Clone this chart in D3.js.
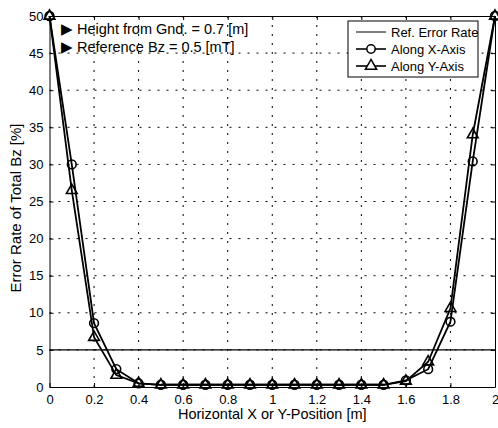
<!DOCTYPE html>
<html>
<head>
<meta charset="utf-8">
<script src="https://cdn.jsdelivr.net/npm/d3@7"></script>
<style>
  body { margin: 0; background: #fff; }
  text { font-family: 'Liberation Sans', Arial, sans-serif; fill: #000; }
</style>
</head>
<body>
<svg id="chart"></svg>
<script>
// positions along the axis [m]
let positions = [0, 0.1, 0.2, 0.3, 0.4, 0.5, 0.6, 0.7, 0.8, 0.9, 1.0, 1.1, 1.2, 1.3, 1.4, 1.5, 1.6, 1.7, 1.8, 1.9, 2.0]
// error rate [%] along X axis (circles)
let alongX = [50, 30, 8.6, 2.4, 0.5, 0.3, 0.3, 0.3, 0.3, 0.3, 0.3, 0.3, 0.3, 0.3, 0.3, 0.3, 0.9, 2.4, 8.8, 30.4, 50]
// error rate [%] along Y axis (triangles)
let alongY = [50, 26.5, 6.7, 1.6, 0.5, 0.3, 0.3, 0.3, 0.3, 0.3, 0.3, 0.3, 0.3, 0.3, 0.3, 0.3, 0.8, 3.4, 10.6, 34, 50]
let refRate = 5
let xTicks = [0, 0.2, 0.4, 0.6, 0.8, 1, 1.2, 1.4, 1.6, 1.8, 2]
let yTicks = [0, 5, 10, 15, 20, 25, 30, 35, 40, 45, 50]
let legendLabels = ['Ref. Error Rate', 'Along X-Axis', 'Along Y-Axis']
let notes = ['Height from Gnd. = 0.7 [m]', 'Reference Bz = 0.5 [mT]']

let width = 498
let height = 428
let margin = { left: 49.5, right: 3, top: 16, bottom: 41 }

let svg = d3.select('#chart').attr('width', width).attr('height', height)

let x = d3.scaleLinear().domain([0, 2]).range([margin.left, width - margin.right])
let y = d3.scaleLinear().domain([0, 50]).range([height - margin.bottom, margin.top])

// grid
let grid = svg.append('g')
  .attr('stroke', '#000')
  .attr('stroke-width', 1)
  .attr('stroke-dasharray', '2,7')
grid.selectAll('.vg').data(xTicks.slice(1, -1)).enter().append('line')
  .attr('x1', d => x(d)).attr('x2', d => x(d))
  .attr('y1', y(0)).attr('y2', y(50))
grid.selectAll('.hg').data(yTicks.slice(1, -1)).enter().append('line')
  .attr('x1', x(0)).attr('x2', x(2))
  .attr('y1', d => y(d)).attr('y2', d => y(d))

// axes with inward ticks
let fmtX = d => d === 0 || d === 1 || d === 2 ? String(d) : d3.format('.1f')(d)
svg.append('g')
  .attr('transform', 'translate(0,' + y(0) + ')')
  .call(d3.axisBottom(x).tickValues(xTicks).tickFormat(fmtX).tickSizeInner(-4).tickSizeOuter(0).tickPadding(8))
svg.append('g')
  .attr('transform', 'translate(0,' + y(50) + ')')
  .call(d3.axisTop(x).tickValues(xTicks).tickFormat('').tickSizeInner(-4).tickSizeOuter(0))
svg.append('g')
  .attr('transform', 'translate(' + x(0) + ',0)')
  .call(d3.axisLeft(y).tickValues(yTicks).tickSizeInner(-4).tickSizeOuter(0).tickPadding(6))
svg.append('g')
  .attr('transform', 'translate(' + x(2) + ',0)')
  .call(d3.axisRight(y).tickValues(yTicks).tickFormat('').tickSizeInner(-4).tickSizeOuter(0))
svg.selectAll('.domain').attr('stroke', '#000').attr('stroke-width', 1)
svg.selectAll('.tick line').attr('stroke', '#000')
svg.selectAll('.tick text').attr('font-size', 13).attr('font-family', "'Liberation Sans', Arial, sans-serif")

// reference error rate
svg.append('line')
  .attr('x1', x(0)).attr('x2', x(2))
  .attr('y1', y(refRate)).attr('y2', y(refRate))
  .attr('stroke', '#000').attr('stroke-width', 1.2)

let line = d3.line().x(d => x(d[0])).y(d => y(d[1]))
let ptsX = positions.map((p, i) => [p, alongX[i]])
let ptsY = positions.map((p, i) => [p, alongY[i]])

function drawSeries (pts, marker) {
  svg.append('path')
    .attr('d', line(pts))
    .attr('fill', 'none')
    .attr('stroke', '#000')
    .attr('stroke-width', 1.8)
  let sym = d3.symbol().type(marker).size(marker === d3.symbolCircle ? 60 : 50)
  svg.append('g').selectAll('path').data(pts).enter().append('path')
    .attr('transform', d => 'translate(' + x(d[0]) + ',' + y(d[1]) + ')')
    .attr('d', sym)
    .attr('fill', 'none')
    .attr('stroke', '#000')
    .attr('stroke-width', 1.6)
}
drawSeries(ptsX, d3.symbolCircle)
drawSeries(ptsY, d3.symbolTriangle)

// annotations
notes.forEach(function (n, i) {
  svg.append('text')
    .attr('x', 61).attr('y', 34 + i * 17.5)
    .attr('font-size', 14.5)
    .text('\u25B6 ' + n)
})

// legend
let lg = svg.append('g').attr('transform', 'translate(348,21)')
lg.append('rect').attr('width', 130).attr('height', 56)
  .attr('fill', '#fff').attr('stroke', '#000').attr('stroke-width', 1)
let legendMarkers = [null, d3.symbolCircle, d3.symbolTriangle]
legendLabels.forEach(function (l, i) {
  let ly = 11 + i * 17
  lg.append('line').attr('x1', 8).attr('x2', 38).attr('y1', ly).attr('y2', ly)
    .attr('stroke', '#000').attr('stroke-width', i === 0 ? 1 : 1.6)
  if (legendMarkers[i]) {
    lg.append('path').attr('transform', 'translate(23,' + ly + ')')
      .attr('d', d3.symbol().type(legendMarkers[i]).size(55))
      .attr('fill', '#fff').attr('stroke', '#000').attr('stroke-width', 1.5)
  }
  lg.append('text').attr('x', 43).attr('y', ly + 4.5).attr('font-size', 13).text(l)
})

// axis titles
svg.append('text')
  .attr('x', (x(0) + x(2)) / 2).attr('y', 419)
  .attr('text-anchor', 'middle').attr('font-size', 14.5)
  .text('Horizontal X or Y-Position  [m]')
svg.append('text')
  .attr('transform', 'translate(21,208) rotate(-90)')
  .attr('text-anchor', 'middle').attr('font-size', 15)
  .text('Error Rate of Total Bz  [%]')
</script>
</body>
</html>
